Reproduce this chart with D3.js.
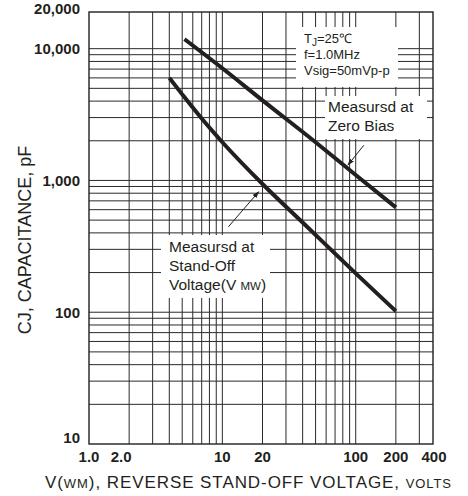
<!DOCTYPE html>
<html>
<head>
<meta charset="utf-8">
<script src="https://cdn.jsdelivr.net/npm/d3@7"></script>
<style>
  body { margin: 0; background: #fff; }
  text { font-family: "Liberation Sans", Arial, Helvetica, sans-serif; fill: #231f20; }
</style>
</head>
<body>
<svg id="chart"></svg>
<script>
// values (volts, pF)
const zeroBiasV = [5.2, 10, 20, 50, 100, 200];
const zeroBiasC = [11800, 7100, 4050, 1950, 1100, 625];
const standOffV = [4, 5, 7, 10, 20, 40, 100, 200];
const standOffC = [6000, 4500, 2950, 1950, 940, 480, 197, 102];

const xTickValues = [1, 2, 10, 20, 100, 200, 400];
const xTickLabels = ["1.0", "2.0", "10", "20", "100", "200", "400"];
const yTickValues = [10, 100, 1000, 10000, 20000];
const yTickLabels = ["10", "100", "1,000", "10,000", "20,000"];

const width = 468, height = 496;
const plot = { left: 89, right: 433, top: 12, bottom: 444 };

const svg = d3.select("#chart")
    .attr("width", width)
    .attr("height", height);

const x = d3.scaleLog().domain([1, 400]).range([89, 436]);
const y = d3.scaleLog().domain([10, 20000]).range([444, 9]);

// minor grid 2..9 of each decade
const xGrid = [];
[1, 10, 100].forEach(d => {
    for (let k = 2; k <= 10; k++) {
        const v = d * k;
        if (v < 400) xGrid.push(v);
    }
});
const yGrid = [];
[10, 100, 1000].forEach(d => {
    for (let k = 2; k <= 10; k++) yGrid.push(d * k);
});

const grid = svg.append("g");
grid.selectAll("line.v")
    .data(xGrid)
    .join("line")
    .attr("class", "v")
    .attr("x1", d => x(d)).attr("x2", d => x(d))
    .attr("y1", plot.top).attr("y2", plot.bottom)
    .attr("stroke", "#2a2a2a")
    .attr("stroke-width", 1);
grid.selectAll("line.h")
    .data(yGrid)
    .join("line")
    .attr("class", "h")
    .attr("x1", plot.left).attr("x2", plot.right)
    .attr("y1", d => y(d)).attr("y2", d => y(d))
    .attr("stroke", "#2a2a2a")
    .attr("stroke-width", 1);

// white boxes behind the notes break the grid
const boxes = [
    { x0: 296, y0: 27, x1: 398, y1: 87 },
    { x0: 325, y0: 96, x1: 427, y1: 139 },
    { x0: 161, y0: 235, x1: 270, y1: 298 }
];
svg.append("g").selectAll("rect")
    .data(boxes)
    .join("rect")
    .attr("x", d => d.x0).attr("y", d => d.y0)
    .attr("width", d => d.x1 - d.x0).attr("height", d => d.y1 - d.y0)
    .attr("fill", "#fff");

svg.append("rect")
    .attr("x", plot.left).attr("y", plot.top)
    .attr("width", plot.right - plot.left)
    .attr("height", plot.bottom - plot.top)
    .attr("fill", "none")
    .attr("stroke", "#231f20")
    .attr("stroke-width", 1.4);

// curves
const line = d3.line()
    .x(d => x(d[0]))
    .y(d => y(d[1]))
    .curve(d3.curveMonotoneX);

[d3.zip(zeroBiasV, zeroBiasC), d3.zip(standOffV, standOffC)].forEach(s => {
    svg.append("path")
        .datum(s)
        .attr("d", line)
        .attr("fill", "none")
        .attr("stroke", "#231f20")
        .attr("stroke-width", 4);
});

// arrows
svg.append("defs").append("marker")
    .attr("id", "head")
    .attr("viewBox", "0 0 10 10")
    .attr("refX", 9).attr("refY", 5)
    .attr("markerWidth", 7).attr("markerHeight", 7)
    .attr("markerUnits", "userSpaceOnUse")
    .attr("orient", "auto")
    .append("path")
    .attr("d", "M0,1.5L10,5L0,8.5Z")
    .attr("fill", "#231f20");

const arrows = [
    { from: [115, 1850], to: [87.5, 1310] },
    { from: [11.1, 445], to: [18.7, 820] }
];
svg.append("g").selectAll("line")
    .data(arrows)
    .join("line")
    .attr("x1", d => x(d.from[0])).attr("y1", d => y(d.from[1]))
    .attr("x2", d => x(d.to[0])).attr("y2", d => y(d.to[1]))
    .attr("stroke", "#231f20")
    .attr("stroke-width", 1)
    .attr("marker-end", "url(#head)");

// notes
const note1 = svg.append("text").attr("font-size", 13);
const t1 = note1.append("tspan").attr("x", 304).attr("y", 43);
t1.append("tspan").text("T");
t1.append("tspan").attr("font-size", 10).attr("dy", 3).text("J");
t1.append("tspan").attr("dy", -3).text("=25\u2103");
note1.append("tspan").attr("x", 304).attr("y", 59).text("f=1.0MHz");
note1.append("tspan").attr("x", 304).attr("y", 75).text("Vsig=50mVp-p");

const note2 = svg.append("text").attr("font-size", 15.5);
note2.append("tspan").attr("x", 328).attr("y", 112).text("Measursd at");
note2.append("tspan").attr("x", 328).attr("y", 131).text("Zero Bias");

const note3 = svg.append("text").attr("font-size", 15.5);
note3.append("tspan").attr("x", 169).attr("y", 252).text("Measursd at");
note3.append("tspan").attr("x", 169).attr("y", 271).text("Stand-Off");
const l3 = note3.append("tspan").attr("x", 169).attr("y", 290);
l3.append("tspan").text("Voltage(V ");
l3.append("tspan").attr("font-size", 11.5).text("MW");
l3.append("tspan").text(")");

// tick labels
svg.append("g").selectAll("text")
    .data(yTickValues)
    .join("text")
    .attr("x", 80)
    .attr("y", d => Math.min(y(d), 438))
    .attr("dy", "0.36em")
    .attr("text-anchor", "end")
    .attr("font-size", 15)
    .attr("font-weight", "bold")
    .text((d, i) => yTickLabels[i]);

svg.append("g").selectAll("text")
    .data(xTickValues)
    .join("text")
    .attr("x", d => x(d) + (d === 2 ? -8 : 0) + (d === 400 ? -2 : 0))
    .attr("y", 462)
    .attr("text-anchor", "middle")
    .attr("font-size", 15)
    .attr("font-weight", "bold")
    .text((d, i) => xTickLabels[i]);

// axis titles
const xt = svg.append("text")
    .attr("x", 45).attr("y", 488)
    .attr("font-size", 17)
    .attr("textLength", 406)
    .attr("lengthAdjust", "spacing");
xt.append("tspan").text("V(");
xt.append("tspan").attr("font-size", 13).text("WM");
xt.append("tspan").text("), REVERSE STAND-OFF VOLTAGE, ");
xt.append("tspan").attr("font-size", 13).text("VOLTS");

svg.append("text")
    .attr("transform", "translate(31,240) rotate(-90)")
    .attr("text-anchor", "middle")
    .attr("font-size", 18)
    .text("CJ, CAPACITANCE, pF");
</script>
</body>
</html>
